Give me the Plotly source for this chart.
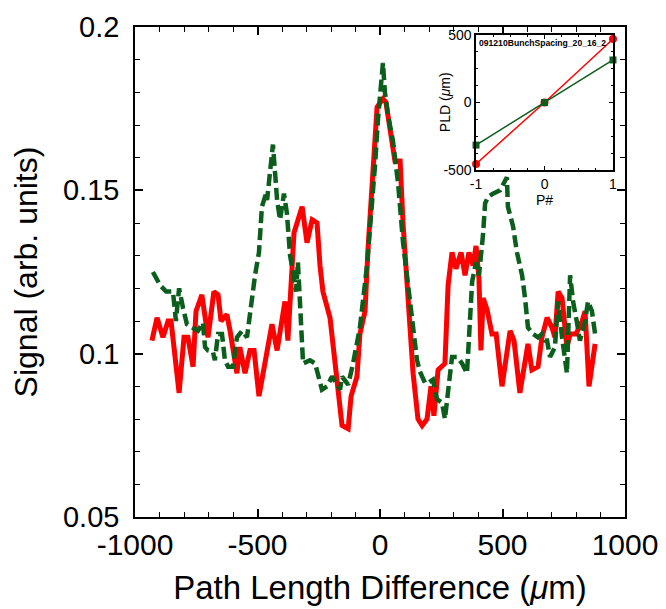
import plotly.graph_objects as go

# main traces (x in um, signal in arb. units)
red_x = [-931, -910, -886, -865, -853, -820, -800, -784, -763, -751, -727, -702, -678, -661,
         -649, -625, -612, -584, -572, -551, -531, -514, -494, -441, -420, -388, -376, -351,
         -318, -298, -277, -257, -245, -233, -204, -155, -130, -118, -94, -82, -61, -49, -12,
         12, 24, 61, 82, 94, 135, 155, 172, 192, 208, 220, 237, 265, 278, 294, 310, 331, 347,
         363, 380, 392, 404, 412, 421, 437, 457, 474, 498, 531, 547, 571, 604, 620, 645, 661,
         682, 702, 714, 727, 743, 763, 776, 800, 825, 837, 853, 878]
red_y = [0.104, 0.111, 0.105, 0.110, 0.110, 0.088, 0.105, 0.105, 0.096, 0.113, 0.118, 0.105,
         0.119, 0.118, 0.110, 0.112, 0.107, 0.094, 0.102, 0.094, 0.101, 0.101, 0.087, 0.109,
         0.101, 0.116, 0.104, 0.137, 0.145, 0.134, 0.141, 0.140, 0.127, 0.119, 0.111, 0.078,
         0.077, 0.087, 0.093, 0.106, 0.113, 0.132, 0.1755, 0.178, 0.177, 0.159, 0.159, 0.140,
         0.094, 0.080, 0.078, 0.080, 0.090, 0.081, 0.095, 0.097, 0.121, 0.131, 0.126, 0.131,
         0.124, 0.131, 0.127, 0.133, 0.123, 0.101, 0.117, 0.1135, 0.106, 0.106, 0.090, 0.107,
         0.104, 0.088, 0.103, 0.095, 0.096, 0.105, 0.111, 0.108, 0.105, 0.119, 0.117, 0.102,
         0.106, 0.106, 0.110, 0.113, 0.090, 0.103]

green_x = [-927, -898, -873, -845, -833, -820, -804, -788, -767, -743, -723, -714, -702, -682,
           -674, -661, -645, -633, -620, -600, -584, -563, -543, -531, -510, -494, -482, -465,
           -461, -437, -429, -420, -408, -392, -380, -367, -355, -343, -335, -326, -314, -286,
           -265, -237, -216, -196, -163, -155, -130, -110, -82, -53, -33, -20, -8, 12, 20, 33,
           53, 74, 94, 114, 135, 151, 163, 184, 196, 216, 233, 253, 265, 278, 294, 314, 335,
           355, 363, 376, 392, 404, 420, 429, 441, 461, 490, 518, 522, 543, 559, 580, 592, 604,
           625, 645, 661, 674, 682, 694, 714, 727, 743, 755, 763, 776, 788, 804, 816, 837, 849,
           865, 878]
green_y = [0.125, 0.121, 0.119, 0.119, 0.110, 0.120, 0.114, 0.109, 0.108, 0.107, 0.1095, 0.102,
           0.101, 0.1006, 0.098, 0.106, 0.106, 0.098, 0.096, 0.096, 0.105, 0.107, 0.105, 0.113,
           0.124, 0.131, 0.145, 0.149, 0.147, 0.164, 0.154, 0.147, 0.141, 0.149, 0.143, 0.130,
           0.125, 0.119, 0.128, 0.116, 0.097, 0.098, 0.097, 0.089, 0.090, 0.093, 0.089, 0.093,
           0.0905, 0.097, 0.108, 0.127, 0.145, 0.158, 0.172, 0.189, 0.180, 0.173, 0.165, 0.152,
           0.134, 0.122, 0.1095, 0.098, 0.0945, 0.091, 0.091, 0.092, 0.086, 0.085, 0.080, 0.089,
           0.099, 0.099, 0.097, 0.094, 0.103, 0.122, 0.128, 0.124, 0.136, 0.146, 0.148, 0.149,
           0.150, 0.154, 0.145, 0.139, 0.131, 0.124, 0.117, 0.108, 0.106, 0.105, 0.106, 0.104,
           0.104, 0.099, 0.102, 0.116, 0.105, 0.098, 0.094, 0.124, 0.116, 0.1095, 0.104, 0.110,
           0.116, 0.113, 0.106]

# inset: path length difference vs P#
inset_p = [-1, 0, 1]
inset_red = [-455, 0, 470]
inset_green = [-315, 0, 315]

RED = '#ff0000'
GREEN = '#0b5e1c'
FONT = 'Liberation Sans, Arial, sans-serif'

# plotly writes a unicode minus; the original uses a plain hyphen
hyphen = {'\u22121000': '-1000', '\u2212500': '-500', '\u22121': '-1'}

fig = go.Figure()
fig.add_trace(go.Scatter(x=red_x, y=red_y, mode='lines', line=dict(color=RED, width=5),
                         showlegend=False))
fig.add_trace(go.Scatter(x=green_x, y=green_y, mode='lines',
                         line=dict(color=GREEN, width=4.5, dash='12px,5px'), showlegend=False))

fig.add_trace(go.Scatter(x=inset_p, y=inset_red, mode='lines+markers', xaxis='x2', yaxis='y2',
                         line=dict(color=RED, width=1.5), marker=dict(color=RED, size=8),
                         cliponaxis=False, showlegend=False))
fig.add_trace(go.Scatter(x=inset_p, y=inset_green, mode='lines+markers', xaxis='x2', yaxis='y2',
                         line=dict(color=GREEN, width=1.5),
                         marker=dict(color=GREEN, size=7, symbol='square'),
                         cliponaxis=False, showlegend=False))

common = dict(showline=True, linecolor='black', linewidth=1.5, mirror='allticks',
              ticks='inside', tickcolor='black', showgrid=False, zeroline=False,
              automargin=False, labelalias=hyphen)

# the page body adds 8px, so margins are 8px less than the screen position
fig.update_layout(
    width=666, height=609,
    margin=dict(l=127, r=49, t=19, b=100),
    plot_bgcolor='white', paper_bgcolor='white',
    font=dict(family=FONT, color='black'),
    xaxis=dict(range=[-1000, 1000], tickmode='linear', tick0=-1000, dtick=500, ticklen=8,
               tickwidth=1.5, tickfont=dict(size=30), ticklabelstandoff=0,
               minor=dict(dtick=100, ticks='inside', ticklen=5, tickcolor='black', tickwidth=1.2),
               title=dict(text='Path Length Difference (<i>μ</i>m)', font=dict(size=33),
                          standoff=16),
               **common),
    yaxis=dict(range=[0.05, 0.2], tickmode='linear', tick0=0.05, dtick=0.05, ticklen=8,
               tickwidth=1.5, tickfont=dict(size=29), ticklabelstandoff=8,
               minor=dict(dtick=0.01, ticks='inside', ticklen=5, tickcolor='black', tickwidth=1.2),
               title=dict(text='Signal (arb. units)', font=dict(size=32), standoff=20),
               **common),
    xaxis2=dict(domain=[0.696, 0.9755], anchor='y2', range=[-1, 1], tickmode='linear',
                tick0=-1, dtick=1, ticklen=4, tickfont=dict(size=14),
                minor=dict(dtick=0.25, ticks='inside', ticklen=2, tickcolor='black'),
                title=dict(text='P#', font=dict(size=14), standoff=0),
                **common),
    yaxis2=dict(domain=[0.708, 0.9837], anchor='x2', range=[-500, 500], tickmode='linear',
                tick0=-500, dtick=500, ticklen=4, tickfont=dict(size=14),
                minor=dict(dtick=125, ticks='inside', ticklen=2, tickcolor='black'),
                **common),
    annotations=[
        dict(text='<b>091210BunchSpacing_20_16_2</b>', xref='paper', yref='paper',
             x=0.698, y=0.982, xanchor='left', yanchor='top', showarrow=False,
             font=dict(size=8.6, family=FONT, color='black')),
        dict(text='PLD (<i>μ</i>m)', xref='paper', yref='paper', x=0.633, y=0.847,
             xanchor='center', yanchor='middle', textangle=-90, showarrow=False,
             font=dict(size=14, family=FONT, color='black')),
    ],
)

fig.write_html('out.html')
